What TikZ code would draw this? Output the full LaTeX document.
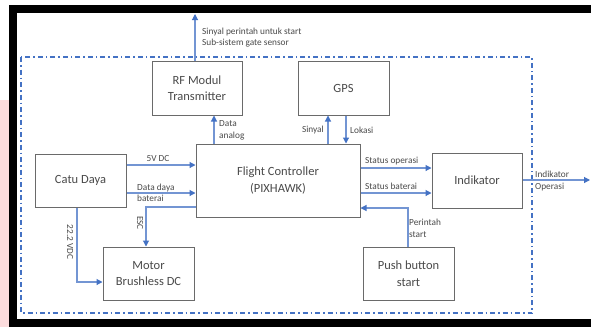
\documentclass[tikz,border=0pt]{standalone}
\usepackage{fontspec}
\setmainfont{Carlito}
\usetikzlibrary{arrows.meta,calc}
\definecolor{arrblue}{HTML}{4472C4}
\definecolor{boxgray}{HTML}{6A6A6A}
\definecolor{txtgray}{HTML}{4A4A4A}
\definecolor{pinkbg}{HTML}{FCDCDD}
\tikzset{
  blk/.style={draw=boxgray, line width=1pt, fill=white, text=txtgray, align=center,
    font=\fontsize{12.5}{16.5}\selectfont, inner sep=0pt},
  arr/.style={draw=arrblue!75, line width=1.1pt, -{Triangle[length=6pt,width=6pt,fill=arrblue,color=arrblue]}},
  lbl/.style={text=txtgray, font=\fontsize{9.3}{11.5}\selectfont, inner sep=0pt, align=left},
}
\begin{document}
\begin{tikzpicture}[x=1pt,y=-1pt]
\useasboundingbox (0,0) rectangle (591,327);
\fill[white] (0,0) rectangle (591,327);
\fill[pinkbg] (0,100) rectangle (9,327);
% black frame
\fill[black] (9,5) rectangle (17,327);
\fill[black] (9,5) rectangle (591,13);
\fill[black] (9,319) rectangle (591,327);
% dash-dot subsystem boundary
\draw[arrblue, line width=1.3pt, dash pattern=on 5pt off 3pt on 1.5pt off 3pt] (21,57) rectangle (532,313);
% blocks
\node[blk, minimum width=90pt, minimum height=54pt] (rf) at (197,88) {RF Modul\\Transmitter};
\node[blk, minimum width=91pt, minimum height=54pt] (gps) at (343.5,88) {GPS};
\node[blk, minimum width=164pt, minimum height=73pt] (fc) at (278,180.5) {Flight Controller\\(PIXHAWK)};
\node[blk, minimum width=91pt, minimum height=53pt] (catu) at (80.5,180.5) {Catu Daya};
\node[blk, minimum width=91pt, minimum height=53pt] (motor) at (148.5,273.5) {Motor\\Brushless DC};
\node[blk, minimum width=90pt, minimum height=55pt] (ind) at (477,180.5) {Indikator};
\node[blk, minimum width=91pt, minimum height=53pt] (push) at (408.5,273.5) {Push button\\start};
% free ends
\coordinate (topout) at (195,14);
\coordinate (rightout) at (590,180);
% connectors
\draw[arr] (rf.north -| topout) -- (topout);
\draw[arr] (fc.north -| 214,0) -- (rf.south -| 214,0);
\draw[arr] (fc.north -| 328,0) -- (gps.south -| 328,0);
\draw[arr] (gps.south -| 346,0) -- (fc.north -| 346,0);
\draw[arr] (catu.east |- 0,165) -- (fc.west |- 0,165);
\draw[arr] (catu.east |- 0,193) -- (fc.west |- 0,193);
\draw[arr] (fc.west |- 0,207) -- (146,207) -- (motor.north -| 146,0);
\draw[arr] (catu.south -| 77,0) -- (77,282) -- (motor.west |- 0,282);
\draw[arr] (fc.east |- 0,168) -- (ind.west |- 0,168);
\draw[arr] (fc.east |- 0,193) -- (ind.west |- 0,193);
\draw[arr] (push.north -| 408,0) -- (408,208) -- (fc.east |- 0,208);
\draw[arr] (ind.east |- rightout) -- (rightout);
% labels
\node[lbl, anchor=west] (l1) at (202,37.5) {Sinyal perintah untuk start\\Sub-sistem gate sensor};
\node[lbl, anchor=west] (l2) at (219,130.5) {Data\\analog};
\node[lbl, anchor=east] (l3) at (324,130) {Sinyal};
\node[lbl, anchor=west] (l4) at (350,130) {Lokasi};
\node[lbl] (l5) at (158,159) {5V DC};
\node[lbl, anchor=west] (l6) at (137,193) {Data daya\\baterai};
\node[lbl, anchor=west] (l7) at (365,161) {Status operasi};
\node[lbl, anchor=west] (l8) at (365,186) {Status baterai};
\node[lbl, anchor=west] (l9) at (409,228.5) {Perintah\\start};
\node[lbl, anchor=west] (l10) at (535,181) {Indikator\\Operasi};
\node[lbl, rotate=-90] (l11) at (70,242) {22.2 VDC};
\node[lbl, rotate=-90] (l12) at (140,223) {ESC};
\end{tikzpicture}
\end{document}
